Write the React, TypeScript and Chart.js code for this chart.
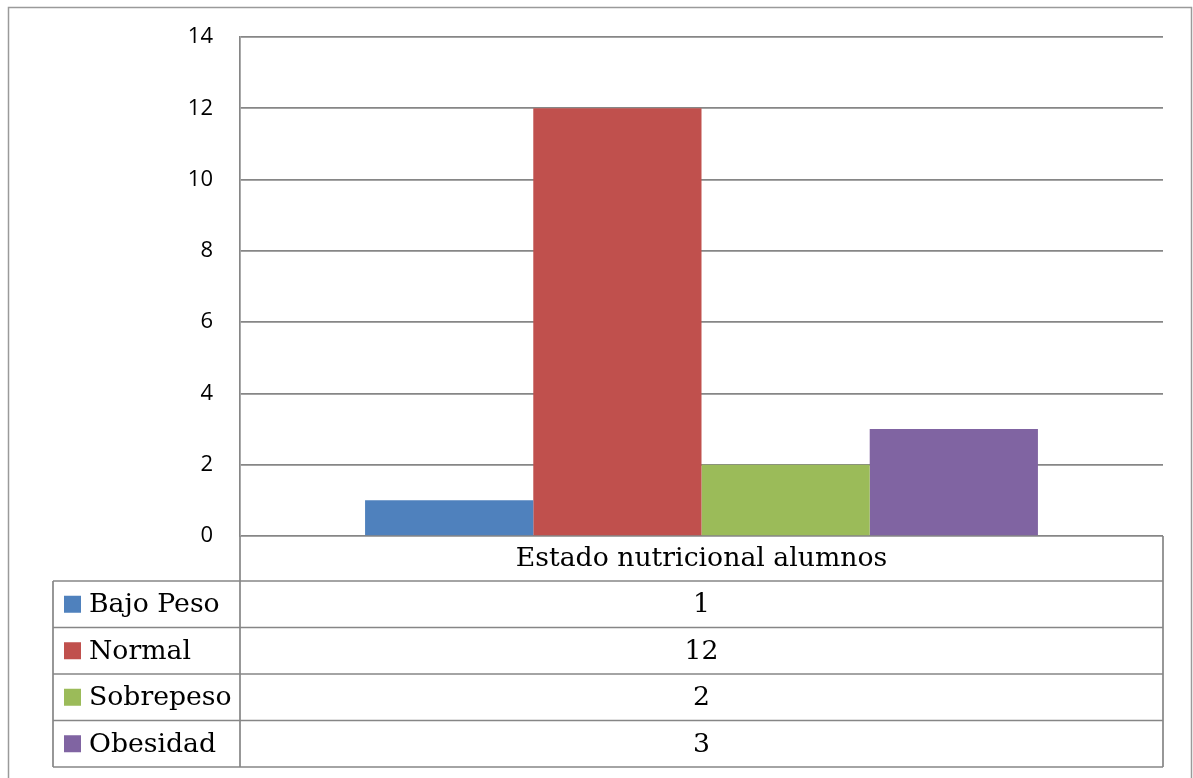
import React, { useEffect, useRef } from "react";
import { Chart, registerables } from "chart.js";

Chart.register(...registerables);

const categories = ["Estado nutricional alumnos"];
const seriesNames = ["Bajo Peso", "Normal", "Sobrepeso", "Obesidad"];
const seriesValues = [1, 12, 2, 3];
const seriesColors = ["#4F81BD", "#C0504D", "#9BBB59", "#8064A2"];
const yMin = 0;
const yMax = 14;
const yStep = 2;

const GRID = "#868686";
const TABLE_FONT = '26.7px "DejaVu Serif"';

const tablePlugin = {
  id: "dataTable",
  afterDraw(chart: any) {
    const ctx = chart.ctx as CanvasRenderingContext2D;
    const area = chart.chartArea;
    const left = area.left;
    const right = area.right;
    const top = area.bottom;
    const headerH = 45;
    const rowH = 46.5;
    const labelLeft = 53;
    const bottom = top + headerH + rowH * seriesNames.length;

    ctx.save();
    ctx.strokeStyle = "#9a9a9a";
    ctx.lineWidth = 1.5;
    ctx.strokeRect(8.5, 7.5, 1183, 800);

    ctx.strokeStyle = GRID;
    ctx.lineWidth = 1.7;
    ctx.beginPath();
    ctx.moveTo(left, top);
    ctx.lineTo(left, bottom);
    ctx.moveTo(right, top);
    ctx.lineTo(right, bottom);
    ctx.moveTo(labelLeft, top + headerH);
    ctx.lineTo(labelLeft, bottom);
    for (let i = 0; i <= seriesNames.length; i++) {
      const y = top + headerH + rowH * i;
      ctx.moveTo(labelLeft, y);
      ctx.lineTo(right, y);
    }
    ctx.stroke();

    ctx.fillStyle = "#000";
    ctx.font = TABLE_FONT;
    ctx.textAlign = "center";
    ctx.textBaseline = "middle";
    const cx = (left + right) / 2;
    ctx.fillText(categories[0], cx, top + headerH / 2 + 1);

    for (let i = 0; i < seriesNames.length; i++) {
      const cy = top + headerH + rowH * i + rowH / 2 + 1;
      ctx.textAlign = "center";
      ctx.fillStyle = "#000";
      ctx.fillText(String(seriesValues[i]), cx, cy);
      ctx.fillStyle = seriesColors[i];
      ctx.fillRect(64, cy - 9.5, 17, 17);
      ctx.fillStyle = "#000";
      ctx.textAlign = "left";
      ctx.fillText(seriesNames[i], 89, cy);
    }
    ctx.restore();
  },
};

export default function App() {
  const ref = useRef<HTMLCanvasElement | null>(null);
  useEffect(() => {
    if (!ref.current) return;
    const chart = new Chart(ref.current, {
      type: "bar",
      data: {
        labels: categories,
        datasets: seriesNames.map((name, i) => ({
          label: name,
          data: [seriesValues[i]],
          backgroundColor: seriesColors[i],
          borderWidth: 0,
          barPercentage: 1,
          categoryPercentage: 0.729,
        })),
      },
      options: {
        responsive: false,
        animation: false,
        layout: { padding: { left: 8, top: 37, right: 30, bottom: 242 } },
        plugins: { legend: { display: false }, tooltip: { enabled: false } },
        scales: {
          x: { display: false },
          y: {
            min: yMin,
            max: yMax,
            ticks: {
              stepSize: yStep,
              color: "#000",
              padding: 27,
              font: { family: '"Open Sans", sans-serif', size: 22 },
            },
            grid: { color: GRID, lineWidth: 1.7, drawTicks: false },
            border: { color: GRID, width: 1.7 },
            afterFit: (s: any) => {
              s.width = 232;
              s.paddingTop = 0;
              s.paddingBottom = 0;
            },
          },
        },
      },
      plugins: [tablePlugin],
    });
    return () => chart.destroy();
  }, []);
  return (
    <div style={{ position: "fixed", left: 0, top: 0, width: 1193, height: 778, background: "#fff" }}>
      <canvas ref={ref} width={1193} height={778} />
    </div>
  );
}
